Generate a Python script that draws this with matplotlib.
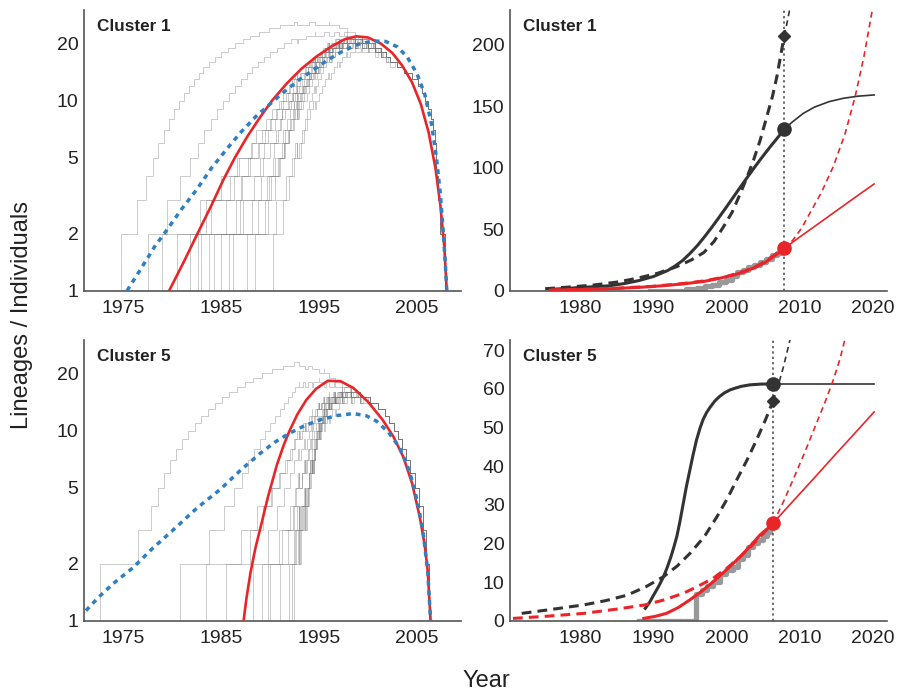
import numpy as np
import matplotlib
matplotlib.use("Agg")
import matplotlib.pyplot as plt
from matplotlib.ticker import NullLocator

plt.rcParams['font.family'] = ['Liberation Sans', 'DejaVu Sans']

RED = '#e8262a'
BLUE = '#2f7fc1'
DARK = '#333333'

# ---------------- left panels: lineages through time ----------------
# tip (sampling) years, shared by every tree of a cluster
c1_tips = [1992.8, 1994.6, 1996.0, 1997.0, 1997.9, 1998.7, 1999.4, 2000.0, 2000.7, 2001.3,
           2001.8, 2002.3, 2003.0, 2003.7, 2004.5, 2005.1, 2005.5, 2005.8, 2006.1, 2006.4,
           2006.6, 2006.8, 2006.9, 2007.0, 2007.2, 2007.4, 2007.9, 2008.2]
# branching years of a few posterior trees
c1_trees = [
    [1985.0, 1987.2, 1988.4, 1989.3, 1990.0, 1990.6, 1991.1, 1991.5, 1991.9, 1992.3, 1992.7, 1993.0, 1993.3, 1993.6,
     1993.9, 1994.2, 1994.5, 1994.8, 1995.1, 1995.4, 1995.8, 1996.2, 1996.6, 1997.1, 1997.7, 1998.4, 1999.5],
    [1988.5, 1989.8, 1990.5, 1991.0, 1991.4, 1991.8, 1992.1, 1992.4, 1992.7, 1993.0, 1993.2, 1993.5, 1993.7, 1994.0,
     1994.2, 1994.5, 1994.7, 1995.0, 1995.3, 1995.6, 1995.9, 1996.3, 1996.7, 1997.2, 1997.8, 1998.6, 2000.3],
    [1974.8, 1976.4, 1977.3, 1978.0, 1978.6, 1979.2, 1979.7, 1980.2, 1980.7, 1981.2, 1981.7, 1982.2, 1982.7, 1983.2,
     1983.8, 1984.4, 1985.0, 1985.7, 1986.4, 1987.2, 1988.0, 1988.9, 1989.9, 1991.0, 1992.4, 1994.0, 1996.0],
    [1977.5, 1979.5, 1980.8, 1981.8, 1982.6, 1983.3, 1984.0, 1984.6, 1985.2, 1985.8, 1986.4, 1987.0, 1987.6, 1988.2,
     1988.8, 1989.4, 1990.0, 1990.7, 1991.4, 1992.1, 1992.9, 1993.7, 1994.6, 1995.5, 1996.5, 1997.6, 1999.0],
    [1982.6, 1985.5, 1987.0, 1988.0, 1988.8, 1989.5, 1990.1, 1990.6, 1991.1, 1991.6, 1992.0, 1992.4, 1992.8, 1993.2,
     1993.6, 1994.0, 1994.4, 1994.8, 1995.2, 1995.6, 1996.0, 1996.5, 1997.0, 1997.6, 1998.3, 1999.2, 2000.8],
    [1980.5, 1984.0, 1986.3, 1987.8, 1988.9, 1989.8, 1990.5, 1991.2, 1991.8, 1992.3, 1992.8, 1993.3, 1993.8, 1994.2,
     1994.6, 1995.0, 1995.4, 1995.8, 1996.2, 1996.6, 1997.0, 1997.4, 1997.9, 1998.4, 1999.0, 1999.8, 2001.5],
    [1990.3, 1991.3, 1991.9, 1992.4, 1992.8, 1993.2, 1993.5, 1993.8, 1994.1, 1994.4, 1994.7, 1995.0, 1995.3, 1995.6,
     1995.9, 1996.2, 1996.5, 1996.8, 1997.1, 1997.4, 1997.8, 1998.2, 1998.7, 1999.3, 2000.0, 2001.0, 2002.8],
    [1983.0, 1986.5, 1987.1, 1989.0, 1989.4, 1990.8, 1991.0, 1991.2, 1992.1, 1992.2, 1992.9, 1993.4, 1993.5, 1994.0,
     1994.6, 1994.7, 1995.0, 1995.5, 1995.9, 1996.0, 1996.4, 1996.9, 1997.3, 1997.5, 1998.1, 1998.9, 2001.0],
    [1986.2, 1988.8, 1989.1, 1990.3, 1990.4, 1991.3, 1991.7, 1992.0, 1992.5, 1992.6, 1993.1, 1993.4, 1993.9, 1994.1,
     1994.3, 1994.9, 1995.2, 1995.3, 1995.7, 1996.1, 1996.3, 1996.7, 1997.4, 1998.0, 1998.8, 1999.6, 2002.0],
    [1981.8, 1983.5, 1985.9, 1986.6, 1988.2, 1988.6, 1989.6, 1990.2, 1990.9, 1991.3, 1991.9, 1992.2, 1992.6, 1993.1,
     1993.7, 1994.1, 1994.4, 1994.9, 1995.3, 1995.7, 1996.1, 1996.6, 1997.2, 1997.9, 1998.7, 1999.9, 2001.8],
    [1984.3, 1989.5, 1990.1, 1990.9, 1991.5, 1991.9, 1992.4, 1992.8, 1993.0, 1993.4, 1993.8, 1994.0, 1994.3, 1994.5,
     1994.8, 1995.1, 1995.4, 1995.7, 1996.0, 1996.3, 1996.6, 1997.0, 1997.5, 1998.0, 1998.6, 1999.4, 2000.6],
    [1983.8, 1988.2, 1989.9, 1990.8, 1991.4, 1991.9, 1992.3, 1992.6, 1992.9, 1993.2, 1993.5, 1993.7, 1994.0, 1994.2,
     1994.5, 1994.7, 1995.0, 1995.3, 1995.6, 1995.9, 1996.3, 1996.7, 1997.1, 1997.6, 1998.2, 1999.0, 2000.5],
    [1987.6, 1990.6, 1991.6, 1992.2, 1992.6, 1993.0, 1993.3, 1993.6, 1993.8, 1994.0, 1994.3, 1994.5, 1994.7, 1994.9,
     1995.2, 1995.4, 1995.7, 1996.0, 1996.3, 1996.6, 1997.0, 1997.4, 1997.9, 1998.5, 1999.2, 2000.1, 2001.4],
    [1979.0, 1982.8, 1985.0, 1986.8, 1988.1, 1989.2, 1990.0, 1990.7, 1991.3, 1991.8, 1992.3, 1992.7, 1993.1, 1993.5,
     1993.9, 1994.3, 1994.7, 1995.1, 1995.5, 1995.9, 1996.3, 1996.8, 1997.3, 1997.8, 1998.5, 1999.3, 2000.5],
    [1985.8, 1986.9, 1989.7, 1990.5, 1991.2, 1991.5, 1992.0, 1992.3, 1992.5, 1992.9, 1993.3, 1993.6, 1994.0, 1994.4,
     1994.6, 1994.9, 1995.1, 1995.4, 1995.6, 1995.9, 1996.4, 1996.9, 1997.5, 1998.1, 1998.9, 1999.8, 2001.2],
]

c5_tips = [1993.0, 1993.6, 1994.3, 1995.0, 1995.5, 1996.0, 1996.6, 1997.4, 1998.3, 1999.2, 2000.2, 2001.0,
           2001.7, 2002.2, 2002.7, 2003.1, 2003.5, 2003.9, 2004.3, 2004.8, 2005.2, 2005.6, 2005.9, 2006.2, 2006.5]
c5_trees = [
    [1991.0, 1991.8, 1992.3, 1992.7, 1993.0, 1993.3, 1993.5, 1993.7, 1993.9, 1994.1, 1994.3, 1994.5,
     1994.7, 1994.9, 1995.1, 1995.3, 1995.5, 1995.7, 1995.9, 1996.2, 1996.5, 1996.9, 1997.5, 1998.5],
    [1992.5, 1992.9, 1993.2, 1993.5, 1993.7, 1993.9, 1994.1, 1994.3, 1994.4, 1994.6, 1994.8, 1994.9,
     1995.1, 1995.2, 1995.4, 1995.6, 1995.8, 1996.0, 1996.2, 1996.5, 1996.8, 1997.2, 1997.8, 1999.0],
    [1988.3, 1989.8, 1990.7, 1991.4, 1992.0, 1992.5, 1992.9, 1993.2, 1993.5, 1993.8, 1994.0, 1994.2,
     1994.4, 1994.6, 1994.8, 1995.0, 1995.2, 1995.4, 1995.7, 1996.0, 1996.4, 1996.8, 1997.4, 1998.2],
    [1972.6, 1976.5, 1977.8, 1978.6, 1979.2, 1979.8, 1980.4, 1981.0, 1981.6, 1982.3, 1983.0, 1983.7,
     1984.4, 1985.1, 1985.8, 1986.6, 1987.4, 1988.3, 1989.2, 1990.2, 1991.3, 1992.5, 1993.9, 1995.5],
    [1980.8, 1983.8, 1985.3, 1986.3, 1987.1, 1987.8, 1988.4, 1989.0, 1989.5, 1990.0, 1990.5, 1991.0,
     1991.4, 1991.8, 1992.2, 1992.6, 1993.0, 1993.4, 1993.9, 1994.4, 1995.0, 1995.7, 1996.5, 1997.6],
    [1985.5, 1988.0, 1989.3, 1990.2, 1990.9, 1991.5, 1992.0, 1992.4, 1992.8, 1993.1, 1993.4, 1993.7,
     1994.0, 1994.3, 1994.6, 1994.9, 1995.2, 1995.5, 1995.8, 1996.1, 1996.5, 1997.0, 1997.7, 1998.8],
    [1990.0, 1992.6, 1993.0, 1993.1, 1993.6, 1993.8, 1994.0, 1994.1, 1994.5, 1994.6, 1994.7, 1995.0,
     1995.2, 1995.3, 1995.6, 1995.8, 1996.1, 1996.3, 1996.7, 1997.0, 1997.3, 1997.9, 1998.6, 2000.0],
    [1989.2, 1991.2, 1992.0, 1992.6, 1992.9, 1993.3, 1993.6, 1993.8, 1994.0, 1994.2, 1994.5, 1994.7,
     1994.9, 1995.1, 1995.3, 1995.5, 1995.7, 1995.9, 1996.2, 1996.6, 1997.1, 1997.6, 1998.4, 1999.5],
    [1991.9, 1992.4, 1992.8, 1993.4, 1993.6, 1993.9, 1994.0, 1994.2, 1994.4, 1994.5, 1994.7, 1994.8,
     1995.0, 1995.1, 1995.3, 1995.4, 1995.6, 1995.9, 1996.1, 1996.4, 1996.7, 1997.1, 1997.7, 1998.9],
    [1989.8, 1990.9, 1992.4, 1993.2, 1993.5, 1993.7, 1994.0, 1994.1, 1994.3, 1994.5, 1994.6, 1994.8,
     1995.0, 1995.2, 1995.4, 1995.6, 1995.8, 1996.0, 1996.3, 1996.6, 1997.0, 1997.5, 1998.2, 1999.3],
    [1992.2, 1992.7, 1993.1, 1993.3, 1993.8, 1994.0, 1994.2, 1994.3, 1994.5, 1994.6, 1994.8, 1995.0,
     1995.1, 1995.2, 1995.4, 1995.5, 1995.7, 1996.0, 1996.2, 1996.5, 1996.9, 1997.3, 1997.9, 1999.2],
    [1983.5, 1987.0, 1988.7, 1990.1, 1991.0, 1991.7, 1992.2, 1992.6, 1993.0, 1993.3, 1993.6, 1993.9,
     1994.2, 1994.5, 1994.8, 1995.0, 1995.3, 1995.6, 1995.9, 1996.3, 1996.7, 1997.2, 1997.9, 1999.0],
]

# fitted lineage curves
c1_red_yr = [1979.7, 1981.2, 1982.6, 1984.0, 1985.2, 1986.4, 1987.7, 1989.0, 1990.2, 1991.7, 1993.2, 1994.7,
             1996.2, 1997.6, 1998.8, 2000.0, 2001.3, 2002.5, 2003.5, 2004.5, 2005.4, 2006.2, 2006.9, 2007.4,
             2007.8, 2008.05]
c1_red_n = [1.0, 1.42, 2.0, 2.8, 3.8, 5.0, 6.5, 8.2, 10.0, 12.3, 14.7, 17.0, 19.2, 21.0, 21.8, 21.5, 20.0, 17.8,
            15.3, 12.5, 9.6, 6.8, 4.4, 2.8, 1.7, 1.0]
c1_blue_yr = [1975.4, 1976.8, 1978.2, 1979.5, 1981.0, 1982.5, 1984.0, 1985.5, 1987.0, 1988.5, 1990.0, 1991.5,
              1993.0, 1994.5, 1996.0, 1997.5, 1999.0, 2000.5, 2001.8, 2003.0, 2004.0, 2005.0, 2005.8, 2006.5,
              2007.0, 2007.4, 2007.7, 2007.9, 2008.05]
c1_blue_n = [1.0, 1.3, 1.7, 2.1, 2.7, 3.4, 4.4, 5.5, 6.8, 8.2, 9.6, 11.2, 12.9, 14.6, 16.5, 18.3, 19.8, 20.6,
             20.5, 19.2, 17.0, 13.9, 10.8, 7.5, 5.0, 3.2, 2.0, 1.4, 1.0]

c5_red_yr = [1987.3, 1987.6, 1988.0, 1988.5, 1989.0, 1989.8, 1990.7, 1991.4, 1992.0, 1992.8, 1993.7, 1994.7,
             1995.9, 1997.2, 1998.5, 2000.0, 2001.5, 2002.6, 2003.6, 2004.5, 2005.3, 2005.8, 2006.1, 2006.4]
c5_red_n = [1.0, 1.32, 1.78, 2.4, 3.05, 4.5, 6.6, 8.4, 10.0, 12.2, 14.5, 16.6, 18.3, 18.2, 16.8, 14.2, 11.4, 9.3,
            7.3, 5.3, 3.5, 2.5, 1.84, 1.0]
c5_blue_yr = [1971.2, 1972.5, 1974.0, 1976.0, 1978.0, 1980.1, 1982.5, 1984.9, 1987.0, 1989.0, 1990.5, 1992.0,
              1993.5, 1995.1, 1996.8, 1998.5, 1999.8, 2000.9, 2002.1, 2003.2, 2004.0, 2004.6, 2005.1, 2005.6,
              2006.1, 2006.4]
c5_blue_n = [1.13, 1.33, 1.57, 1.9, 2.4, 3.0, 3.9, 4.9, 6.2, 7.6, 8.7, 9.7, 10.6, 11.4, 12.0, 12.3, 12.0, 11.2,
             9.8, 8.2, 6.6, 5.3, 4.1, 3.0, 1.84, 1.0]

# ---------------- right panels: cumulative individuals ----------------
c1_now = 2007.9
c1_cum_yr = [1989.5, 1994.5, 1996.0, 1997.0, 1998.0, 1999.0, 2000.0, 2000.8, 2001.5, 2002.3, 2003.0, 2003.8,
             2004.6, 2005.4, 2006.2, 2006.9, 2007.5, 2007.9]
c1_cum_n = [0, 1, 2, 4, 5, 7, 9, 12, 15, 17, 19, 21, 23, 26, 29, 31, 33, 34]
c1_logis_yr = [1975.9, 1978, 1980, 1982, 1984, 1986, 1988, 1990, 1992, 1993, 1994, 1995, 1996, 1997, 1998, 1999,
               2000, 2001, 2002, 2003, 2004, 2005, 2006, 2007, 2007.9]
c1_logis_n = [1.1, 1.8, 2.6, 3.3, 4.0, 5.8, 8.2, 11.5, 16.5, 20.2, 24.5, 30.2, 36.5, 43.8, 51.5, 59.7, 68, 76.5,
              85, 93.3, 101.5, 109.4, 117, 124.3, 131]
c1_logis_fut_yr = [2007.9, 2009, 2010.5, 2012, 2014, 2016, 2018, 2020.2]
c1_logis_fut_n = [131, 137, 144, 149, 153.5, 156.3, 158, 159]
c1_exp_yr = [1975.2, 1978.5, 1981.8, 1985.0, 1987.7, 1990.5, 1993.2, 1995.2, 1996.9, 1998.3, 1999.6, 2000.8,
             2001.9, 2002.8, 2003.7, 2004.6, 2005.5, 2006.3, 2006.9, 2007.9]
c1_exp_n = [1.6, 3.0, 4.6, 7.0, 10.0, 14.0, 19.5, 25, 31, 40, 52, 64, 79, 92, 106, 122, 141, 158, 174, 207]
c1_exp_fut_yr = [2007.9, 2008.3, 2008.8]
c1_exp_fut_n = [207, 218, 233]
c1_rlin_yr = [1975.9, 1980, 1984, 1988, 1991, 1994, 1996.9, 1999, 2001, 2002.5, 2004.1, 2005.3, 2006.4, 2007.2,
              2007.9]
c1_rlin_n = [0.4, 0.9, 1.6, 2.7, 3.9, 5.5, 7.5, 10, 12.8, 15.5, 19.5, 23, 27.6, 31, 34.4]
c1_rlin_fut_yr = [2007.9, 2010, 2012, 2014, 2016, 2018, 2020.2]
c1_rlin_fut_n = [34.4, 43.5, 52, 60.5, 69, 77.5, 86.7]
c1_rexp_yr = [1976, 1980, 1985, 1990, 1994, 1997, 2000, 2002.5, 2004.5, 2006.4, 2007.9]
c1_rexp_n = [0.6, 1.1, 2.0, 3.6, 5.8, 8.0, 11.5, 16, 21, 28.3, 34.4]
c1_rexp_fut_yr = [2007.9, 2009.1, 2010.3, 2011.4, 2013, 2014.6, 2016.2, 2017.6, 2018.8, 2020.1]
c1_rexp_fut_n = [34.4, 41.2, 51, 62.9, 80, 100.7, 127, 157.6, 190, 233]

c5_now = 2006.4
c5_cum_yr = [1988.0, 1995.9, 1996.6, 1997.3, 1998.2, 1999.1, 2000.0, 2000.9, 2001.6, 2002.3, 2003.0, 2003.6,
             2004.3, 2005.0, 2005.6, 2006.0, 2006.4]
c5_cum_n = [0, 7, 8, 9, 10, 12, 13, 14, 16, 17, 19, 20, 21, 22, 23, 24, 25]
c5_logis_yr = [1988.9, 1989.5, 1990.0, 1990.7, 1991.4, 1991.9, 1992.4, 1992.8, 1993.2, 1993.6, 1994.1, 1994.5,
               1995.0, 1995.4, 1995.9, 1996.4, 1996.8, 1997.3, 1997.8, 1998.4, 1999.0, 1999.7, 2000.5, 2001.3,
               2002.0, 2003.2, 2004.8, 2006.4]
c5_logis_n = [3.2, 4.8, 6.5, 8.8, 11.4, 13.8, 16.5, 19.0, 21.7, 25.3, 30.4, 34.5, 39, 42.6, 46.7, 49.9, 52.0,
              53.9, 55.3, 56.8, 57.9, 58.9, 59.7, 60.2, 60.6, 61.0, 61.2, 61.2]
c5_logis_fut_yr = [2006.4, 2020.2]
c5_logis_fut_n = [61.2, 61.2]
c5_exp_yr = [1972.0, 1976, 1980.5, 1983.5, 1986.4, 1989, 1991.4, 1993.3, 1995.0, 1997, 1998.7, 2000.1, 2001.4,
             2002.8, 2004.1, 2005.3, 2006.4]
c5_exp_n = [1.9, 2.9, 4.1, 5.2, 6.6, 8.8, 11.4, 14.2, 17.4, 21.8, 26.9, 31.5, 36.4, 41.5, 46.7, 51.8, 56.9]
c5_exp_fut_yr = [2006.4, 2007.1, 2007.8, 2008.8]
c5_exp_fut_n = [56.9, 61, 65.7, 73.5]
c5_rlin_yr = [1988.7, 1990.2, 1991.8, 1993.4, 1995.0, 1996.6, 1998.2, 2000.1, 2001.9, 2003.3, 2004.6, 2005.6,
              2006.4]
c5_rlin_n = [0.6, 1.1, 1.9, 3.4, 5.4, 7.6, 10.1, 13.3, 16.6, 19.4, 22.2, 23.8, 25.3]
c5_rlin_fut_yr = [2006.4, 2009, 2012, 2015, 2018, 2020.2]
c5_rlin_fut_n = [25.3, 30.7, 36.9, 43.2, 49.4, 54.0]
c5_rexp_yr = [1970.8, 1975, 1980.5, 1985, 1988.9, 1991.5, 1994.1, 1996.2, 1998.2, 2000.2, 2001.9, 2003.3, 2004.6,
              2006.4]
c5_rexp_n = [0.6, 1.1, 1.9, 3.0, 4.1, 5.4, 7.1, 9.0, 11.0, 13.8, 16.6, 19.1, 21.7, 25.3]
c5_rexp_fut_yr = [2006.4, 2007.8, 2009.1, 2010.7, 2012.3, 2013.5, 2014.6, 2015.5, 2016.3]
c5_rexp_fut_n = [25.3, 30.8, 36.4, 43.5, 51, 56.6, 62.2, 67.5, 73.5]


def style(ax):
    for s in ['top', 'right']:
        ax.spines[s].set_visible(False)
    for s in ['left', 'bottom']:
        ax.spines[s].set_color('#555555')
        ax.spines[s].set_linewidth(1.2)
    ax.tick_params(length=0, labelsize=14, colors='#222222')
    ax.tick_params(axis='x', pad=7)
    ax.tick_params(axis='y', pad=4)


def ltt(branch, tips):
    t = np.concatenate([branch, tips])
    d = np.concatenate([np.ones(len(branch)), -np.ones(len(tips))])
    o = np.argsort(t, kind='stable')
    x = np.r_[branch[0], t[o]]
    y = np.r_[1, 1 + np.cumsum(d[o])]
    return x, y


def left_panel(ax, trees, tips, red_yr, red_n, blue_yr, blue_n, title):
    for b in trees:
        x, y = ltt(b, tips)
        y = np.where(y < 1, 0.5, y)
        ax.step(x, y, where='post', color='#777777', lw=0.7, alpha=0.38, zorder=1)
    ax.plot(red_yr, red_n, color=RED, lw=1.9, zorder=3, solid_capstyle='butt')
    ax.plot(blue_yr, blue_n, color=BLUE, lw=2.5, ls=(0, (1.4, 1.4)), zorder=4)
    ax.set_yscale('log')
    ax.set_ylim(1, 30)
    ax.set_xlim(1971, 2009.5)
    ax.set_yticks([1, 2, 5, 10, 20])
    ax.set_yticklabels(['1', '2', '5', '10', '20'])
    ax.yaxis.set_minor_locator(NullLocator())
    ax.set_xticks([1975, 1985, 1995, 2005])
    style(ax)
    ax.text(0.034, 0.94, title, transform=ax.transAxes, fontsize=12.3, fontweight='bold',
            color='#222222', va='center')


def right_panel(ax, d, ymax, yticks, title):
    ax.step(d['cum_yr'], d['cum_n'], where='post', color='#999999', lw=3.8, zorder=1)
    ax.plot(d['logis_yr'], d['logis_n'], color=DARK, lw=2.2, zorder=3)
    ax.plot(d['logis_fut_yr'], d['logis_fut_n'], color=DARK, lw=1.2, zorder=3)
    ax.plot(d['exp_yr'], d['exp_n'], color=DARK, lw=2.2, ls=(0, (3.2, 2.0)), zorder=3)
    ax.plot(d['exp_fut_yr'], d['exp_fut_n'], color=DARK, lw=1.2, ls=(0, (3.5, 2.5)), zorder=3)
    ax.plot(d['rexp_yr'], d['rexp_n'], color=RED, lw=2.2, ls=(0, (3.2, 2.0)), zorder=4)
    ax.plot(d['rexp_fut_yr'], d['rexp_fut_n'], color=RED, lw=1.2, ls=(0, (3.5, 2.5)), zorder=4)
    ax.plot(d['rlin_yr'], d['rlin_n'], color=RED, lw=2.2, zorder=5)
    ax.plot(d['rlin_fut_yr'], d['rlin_fut_n'], color=RED, lw=1.2, zorder=5)
    ax.axvline(d['now'], color='#444444', lw=1.1, ls=(0, (1.5, 2)), zorder=2)
    ax.plot([d['now']], [d['logis_n'][-1]], 'o', color=DARK, ms=9.5, zorder=6)
    ax.plot([d['now']], [d['exp_n'][-1]], 'D', color=DARK, ms=6, zorder=6)
    ax.plot([d['now']], [d['rlin_n'][-1]], 'o', color=RED, ms=9.5, zorder=7)
    ax.set_xlim(1970.4, 2022)
    ax.set_ylim(0, ymax)
    ax.set_yticks(yticks)
    ax.set_xticks([1980, 1990, 2000, 2010, 2020])
    style(ax)
    ax.text(0.035, 0.94, title, transform=ax.transAxes, fontsize=12.3, fontweight='bold',
            color='#222222', va='center')


fig = plt.figure(figsize=(8.97, 6.93), dpi=100)
ax1 = fig.add_axes([0.0936, 0.5805, 0.4203, 0.4051])
ax2 = fig.add_axes([0.5686, 0.5805, 0.4206, 0.4051])
ax3 = fig.add_axes([0.0936, 0.1043, 0.4203, 0.4051])
ax4 = fig.add_axes([0.5686, 0.1043, 0.4206, 0.4051])

left_panel(ax1, c1_trees, c1_tips, c1_red_yr, c1_red_n, c1_blue_yr, c1_blue_n, 'Cluster 1')
left_panel(ax3, c5_trees, c5_tips, c5_red_yr, c5_red_n, c5_blue_yr, c5_blue_n, 'Cluster 5')

c1 = dict(now=c1_now, cum_yr=c1_cum_yr, cum_n=c1_cum_n,
          logis_yr=c1_logis_yr, logis_n=c1_logis_n, logis_fut_yr=c1_logis_fut_yr, logis_fut_n=c1_logis_fut_n,
          exp_yr=c1_exp_yr, exp_n=c1_exp_n, exp_fut_yr=c1_exp_fut_yr, exp_fut_n=c1_exp_fut_n,
          rlin_yr=c1_rlin_yr, rlin_n=c1_rlin_n, rlin_fut_yr=c1_rlin_fut_yr, rlin_fut_n=c1_rlin_fut_n,
          rexp_yr=c1_rexp_yr, rexp_n=c1_rexp_n, rexp_fut_yr=c1_rexp_fut_yr, rexp_fut_n=c1_rexp_fut_n)
c5 = dict(now=c5_now, cum_yr=c5_cum_yr, cum_n=c5_cum_n,
          logis_yr=c5_logis_yr, logis_n=c5_logis_n, logis_fut_yr=c5_logis_fut_yr, logis_fut_n=c5_logis_fut_n,
          exp_yr=c5_exp_yr, exp_n=c5_exp_n, exp_fut_yr=c5_exp_fut_yr, exp_fut_n=c5_exp_fut_n,
          rlin_yr=c5_rlin_yr, rlin_n=c5_rlin_n, rlin_fut_yr=c5_rlin_fut_yr, rlin_fut_n=c5_rlin_fut_n,
          rexp_yr=c5_rexp_yr, rexp_n=c5_rexp_n, rexp_fut_yr=c5_rexp_fut_yr, rexp_fut_n=c5_rexp_fut_n)

right_panel(ax2, c1, 228, [0, 50, 100, 150, 200], 'Cluster 1')
right_panel(ax4, c5, 72.6, [0, 10, 20, 30, 40, 50, 60, 70], 'Cluster 5')

fig.text(0.025, 0.545, 'Lineages / Individuals', rotation=90, fontsize=17, color='#222222',
         ha='center', va='center')
fig.text(0.542, 0.0175, 'Year', fontsize=17, color='#222222', ha='center', va='center')

fig.savefig('out.png', dpi=100)
